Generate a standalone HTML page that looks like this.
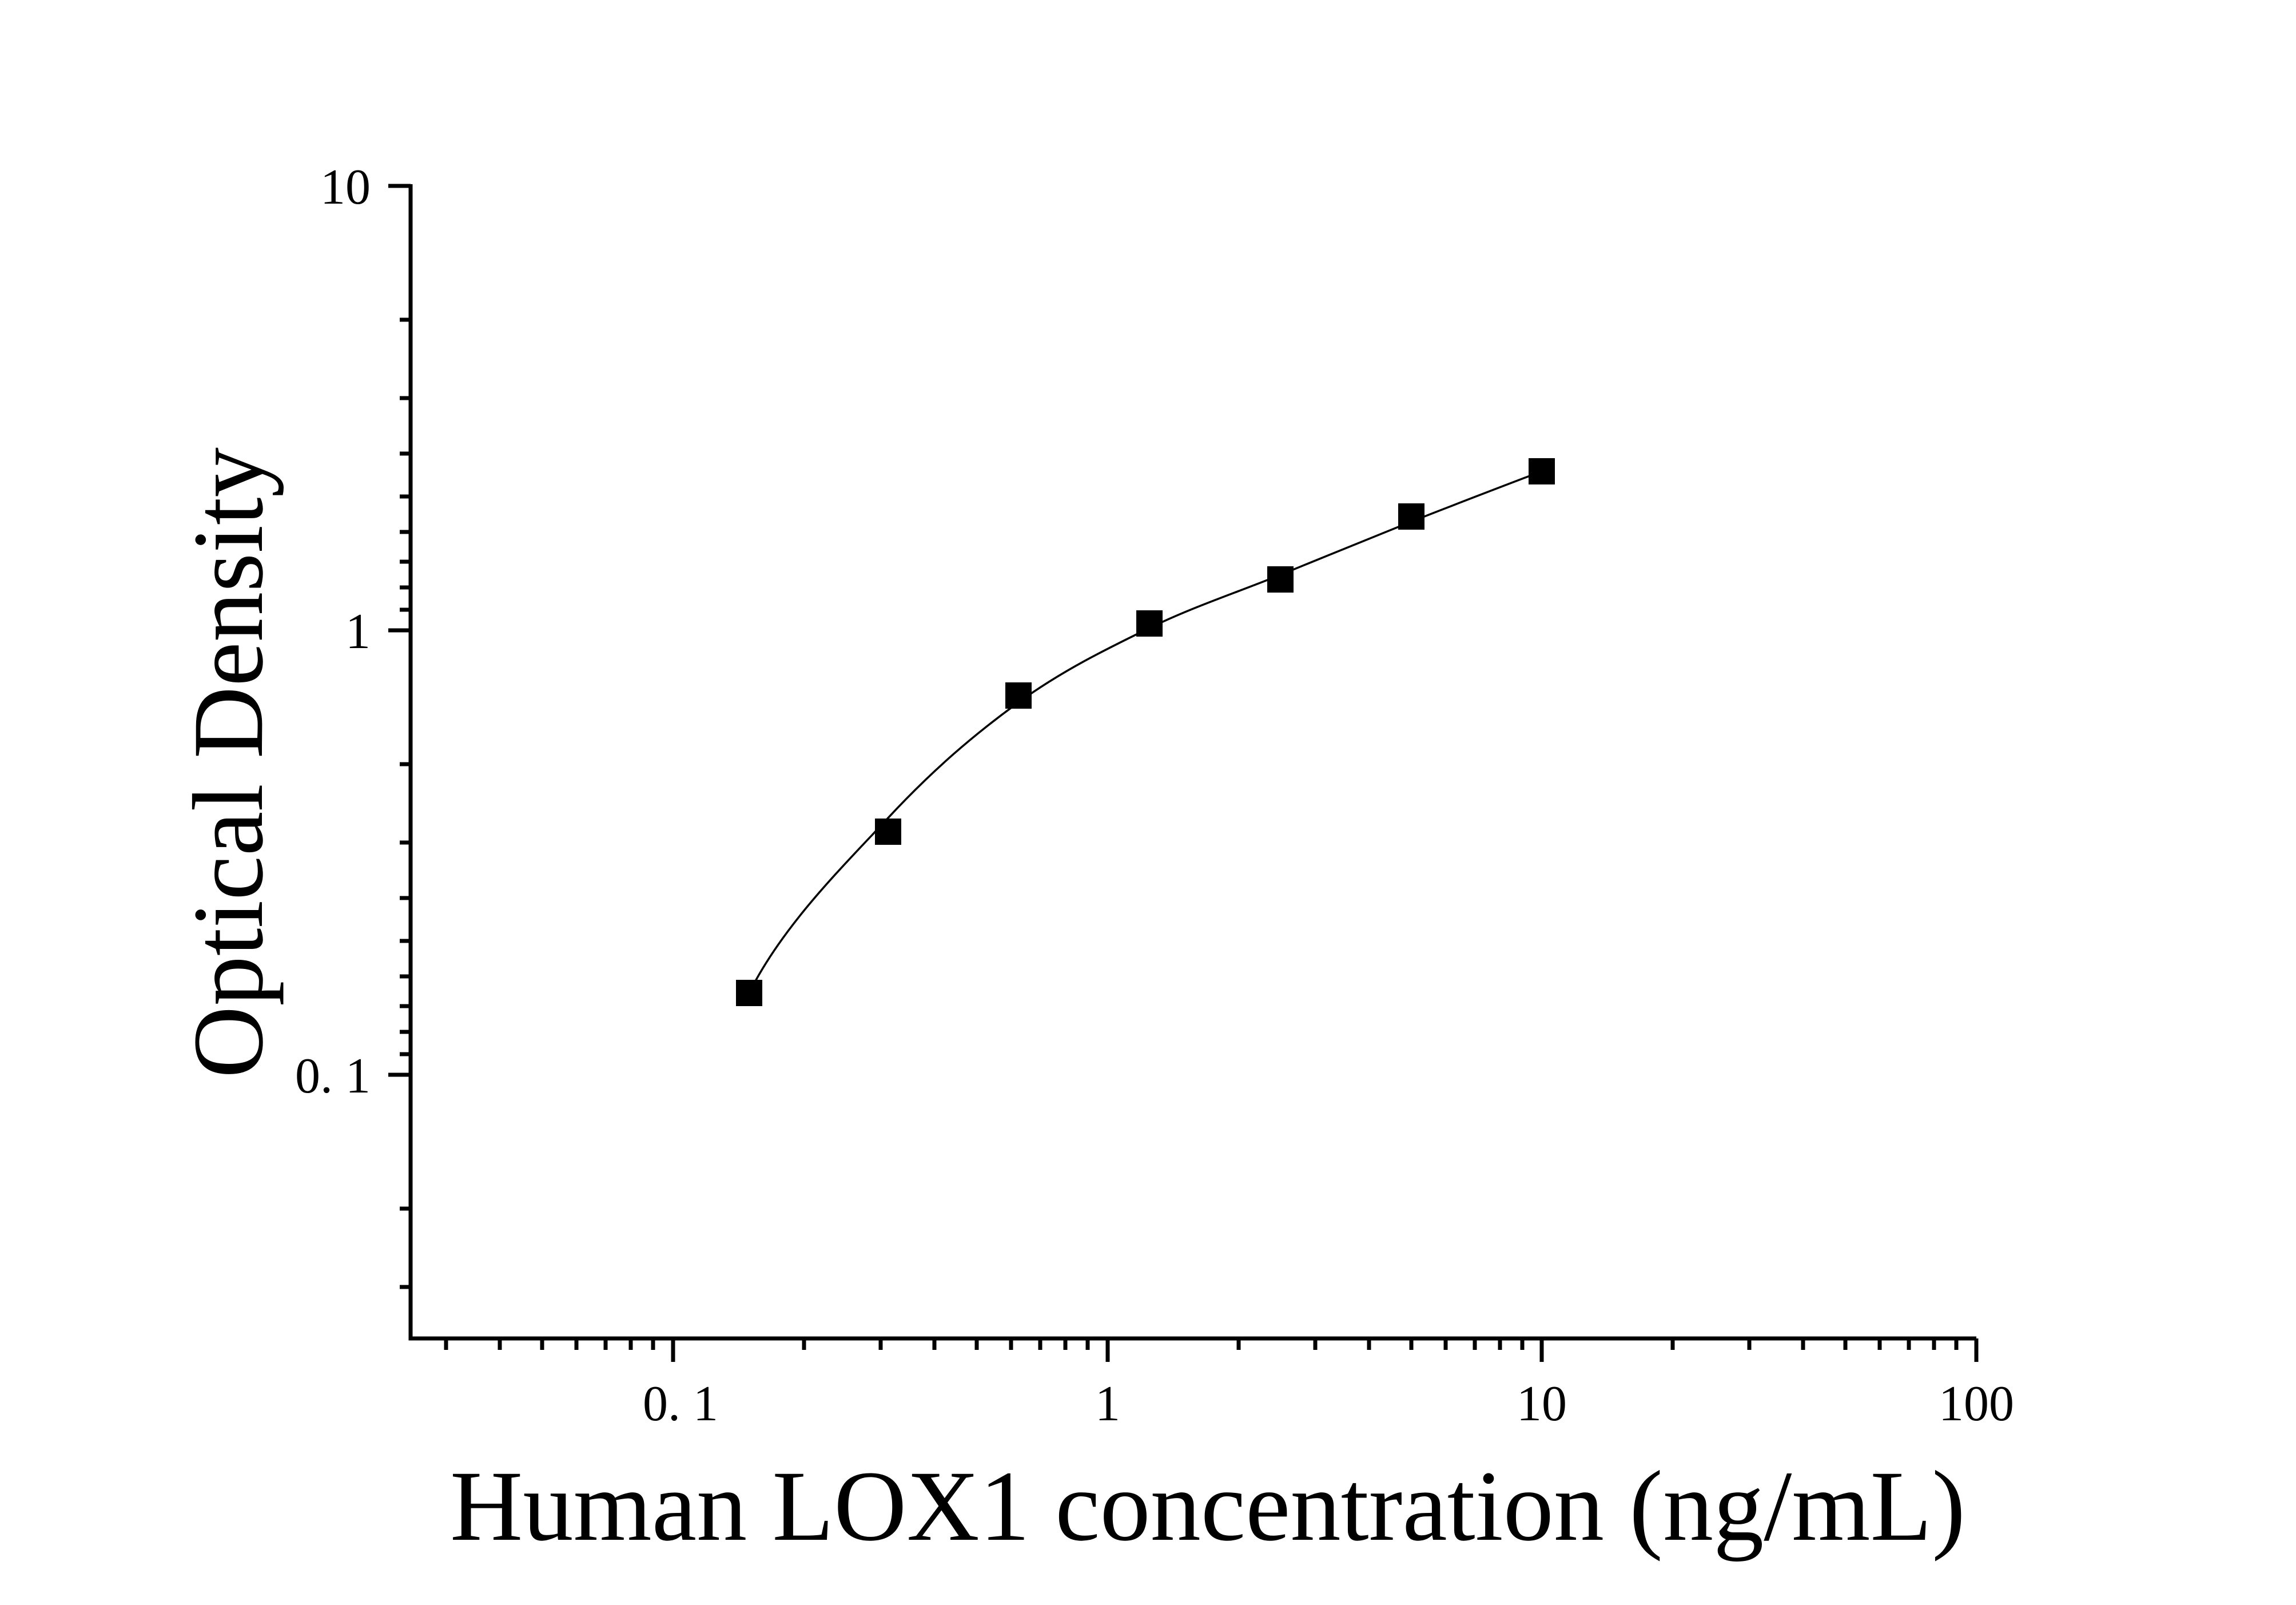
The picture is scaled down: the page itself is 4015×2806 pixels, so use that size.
<!DOCTYPE html>
<html><head><meta charset="utf-8"><style>html,body{margin:0;padding:0;background:#fff}svg{display:block}</style></head>
<body>
<svg width="4015" height="2806" viewBox="0 0 4015 2806" xmlns="http://www.w3.org/2000/svg">
<rect width="4015" height="2806" fill="#fff"/>
<g stroke="#000" stroke-width="7" fill="none">
<polyline points="718,322 718,2340 3456,2340"/>
<line x1="679" y1="325" x2="718" y2="325"/>
<line x1="679" y1="1102" x2="718" y2="1102"/>
<line x1="679" y1="1879" x2="718" y2="1879"/>
<g id="ym">
<line x1="699" y1="559" x2="718" y2="559"/>
<line x1="699" y1="696" x2="718" y2="696"/>
<line x1="699" y1="793" x2="718" y2="793"/>
<line x1="699" y1="868" x2="718" y2="868"/>
<line x1="699" y1="930" x2="718" y2="930"/>
<line x1="699" y1="982" x2="718" y2="982"/>
<line x1="699" y1="1027" x2="718" y2="1027"/>
<line x1="699" y1="1066" x2="718" y2="1066"/>
</g>
<use href="#ym" transform="translate(0,777)"/>
<line x1="699" y1="2113" x2="718" y2="2113"/>
<line x1="699" y1="2250" x2="718" y2="2250"/>
<line x1="1177" y1="2340" x2="1177" y2="2381"/>
<line x1="1937" y1="2340" x2="1937" y2="2381"/>
<line x1="2696" y1="2340" x2="2696" y2="2381"/>
<line x1="3456" y1="2340" x2="3456" y2="2381"/>
<g id="xm">
<line x1="1406" y1="2340" x2="1406" y2="2360"/>
<line x1="1540" y1="2340" x2="1540" y2="2360"/>
<line x1="1634" y1="2340" x2="1634" y2="2360"/>
<line x1="1708" y1="2340" x2="1708" y2="2360"/>
<line x1="1768" y1="2340" x2="1768" y2="2360"/>
<line x1="1819" y1="2340" x2="1819" y2="2360"/>
<line x1="1863" y1="2340" x2="1863" y2="2360"/>
<line x1="1902" y1="2340" x2="1902" y2="2360"/>
</g>
<use href="#xm" transform="translate(760,0)"/>
<use href="#xm" transform="translate(1519,0)"/>
<line x1="780" y1="2340" x2="780" y2="2360"/>
<line x1="874" y1="2340" x2="874" y2="2360"/>
<line x1="948" y1="2340" x2="948" y2="2360"/>
<line x1="1008" y1="2340" x2="1008" y2="2360"/>
<line x1="1059" y1="2340" x2="1059" y2="2360"/>
<line x1="1103" y1="2340" x2="1103" y2="2360"/>
<line x1="1142" y1="2340" x2="1142" y2="2360"/>
</g>
<path d="M1310,1736 C1370,1616 1474.5,1514.7 1553,1430 C1631.5,1345.3 1704.8,1283.3 1781,1228 C1857.2,1172.7 1933.7,1135.2 2010,1098 C2086.3,1060.8 2162.7,1036 2239,1005 C2315.3,974 2391.8,942.2 2468,912 C2544.2,881.8 2620,853 2696,824" stroke="#000" stroke-width="3.5" fill="none"/>
<g fill="#000">
<rect x="1287" y="1713" width="46" height="46"/>
<rect x="1530" y="1431" width="46" height="46"/>
<rect x="1758" y="1193" width="46" height="46"/>
<rect x="1987" y="1067" width="46" height="46"/>
<rect x="2216" y="990" width="46" height="46"/>
<rect x="2445" y="880" width="46" height="46"/>
<rect x="2673" y="801" width="46" height="46"/>
</g>
<g font-family="Liberation Serif, serif" font-size="88" fill="#000">
<text x="648" y="356" text-anchor="end">10</text>
<text x="648" y="1133" text-anchor="end">1</text>
<text x="648" y="1910" text-anchor="end">0. 1</text>
<text x="1190" y="2483" text-anchor="middle">0. 1</text>
<text x="1937" y="2483" text-anchor="middle">1</text>
<text x="2696" y="2483" text-anchor="middle">10</text>
<text x="3456" y="2483" text-anchor="middle">100</text>
</g>
<text x="787" y="2692" font-family="Liberation Serif, serif" font-size="176" textLength="2650" lengthAdjust="spacingAndGlyphs">Human LOX1 concentration (ng/mL)</text>
<text transform="translate(458,1885) rotate(-90)" font-family="Liberation Serif, serif" font-size="176" textLength="1103" lengthAdjust="spacingAndGlyphs">Optical Density</text>
</svg>
</body></html>
